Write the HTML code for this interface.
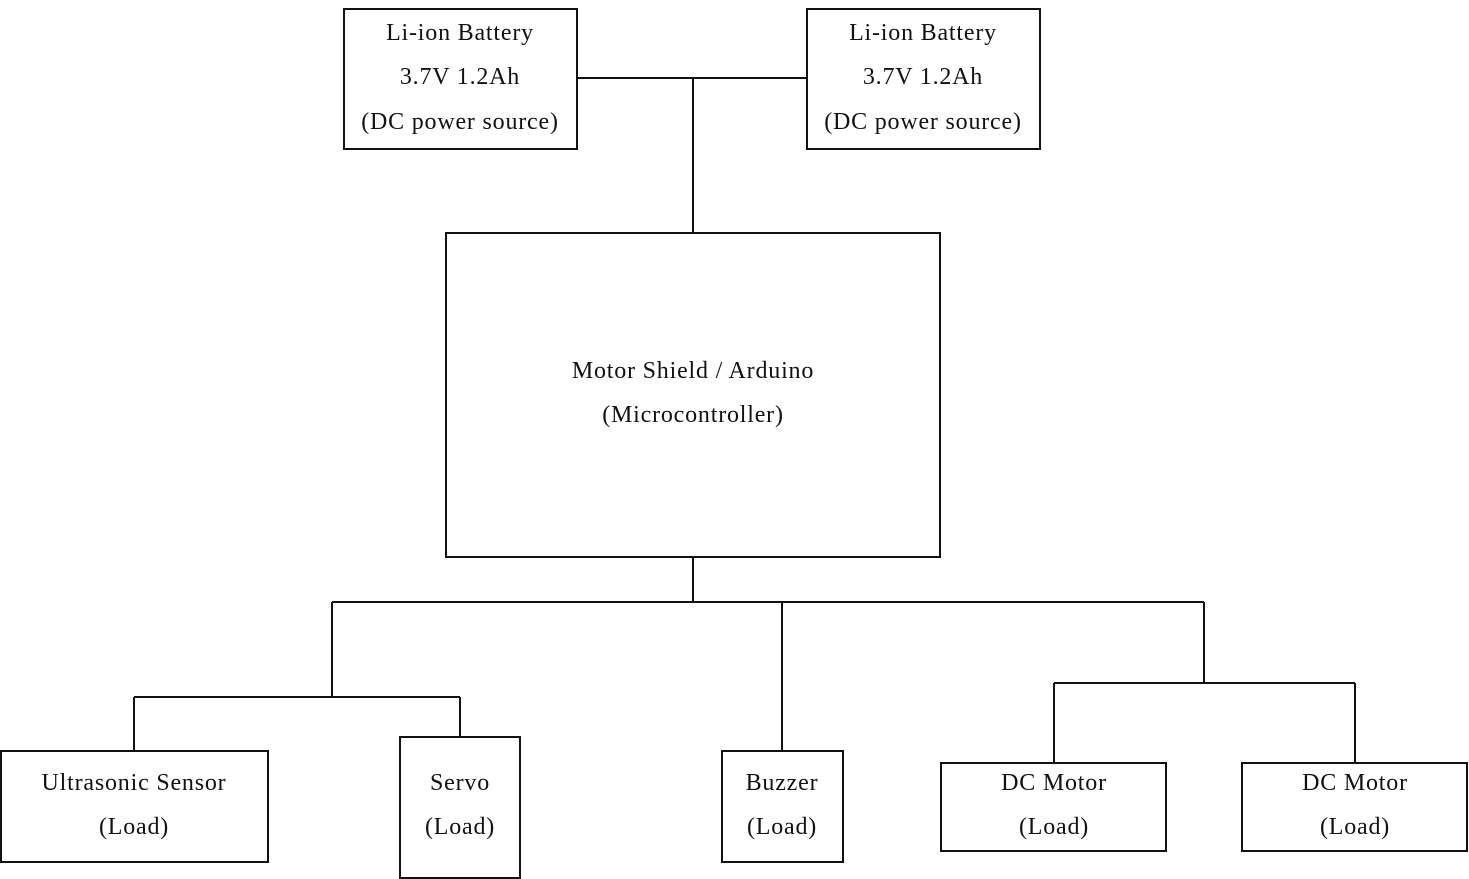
<!DOCTYPE html>
<html><head><meta charset="utf-8"><style>
html,body{margin:0;padding:0;background:#fff;}
svg{display:block;}
text{font-family:"Liberation Serif",serif;font-size:24px;fill:#111;text-anchor:middle;letter-spacing:0.8px;}
</style></head><body>
<svg width="1469" height="879" viewBox="0 0 1469 879" xmlns="http://www.w3.org/2000/svg">
<g fill="none" stroke="#111" stroke-width="2">
<rect x="344" y="9" width="233" height="140"/>
<rect x="807" y="9" width="233" height="140"/>
<rect x="446" y="233" width="494" height="324"/>
<rect x="1" y="751" width="267" height="111"/>
<rect x="400" y="737" width="120" height="141"/>
<rect x="722" y="751" width="121" height="111"/>
<rect x="941" y="763" width="225" height="88"/>
<rect x="1242" y="763" width="225" height="88"/>
<path d="M577 78H807M693 78V233M693 557V602M332 602H1204M332 602V697M134 697H460M134 697V751M460 697V737M782 602V751M1204 602V683M1054 683H1355M1054 683V763M1355 683V763"/>
</g>
<text x="460" y="40">Li-ion Battery</text>
<text x="460" y="84">3.7V 1.2Ah</text>
<text x="460" y="129">(DC power source)</text>
<text x="923" y="40">Li-ion Battery</text>
<text x="923" y="84">3.7V 1.2Ah</text>
<text x="923" y="129">(DC power source)</text>
<text x="693" y="378">Motor Shield / Arduino</text>
<text x="693" y="422">(Microcontroller)</text>
<text x="134" y="790">Ultrasonic Sensor</text>
<text x="134" y="834">(Load)</text>
<text x="460" y="790">Servo</text>
<text x="460" y="834">(Load)</text>
<text x="782" y="790">Buzzer</text>
<text x="782" y="834">(Load)</text>
<text x="1054" y="790">DC Motor</text>
<text x="1054" y="834">(Load)</text>
<text x="1355" y="790">DC Motor</text>
<text x="1355" y="834">(Load)</text>
</svg>
</body></html>
